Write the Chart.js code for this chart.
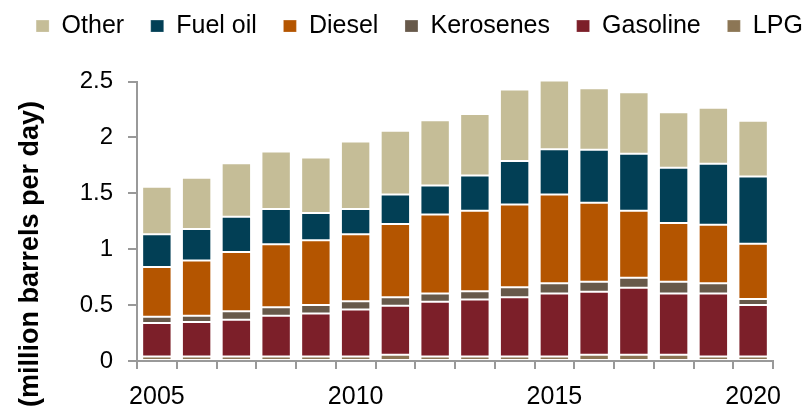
<!DOCTYPE html>
<html>
<head>
<meta charset="utf-8">
<script src="https://cdn.jsdelivr.net/npm/chart.js@4.4.1/dist/chart.umd.min.js"></script>
<style>
  html, body { margin: 0; padding: 0; background: #fff; }
  #wrap { width: 811px; height: 410px; }
</style>
</head>
<body>
<div id="wrap"><canvas id="fuelChart" width="811" height="410"></canvas></div>
<script>
// Năm
const years = ['2005', '2006', '2007', '2008', '2009', '2010', '2011', '2012',
               '2013', '2014', '2015', '2016', '2017', '2018', '2019', '2020'];

// Million barrels per day
const lpg       = [0.04, 0.04, 0.04, 0.04, 0.04, 0.04, 0.055, 0.04, 0.04, 0.04, 0.04, 0.055, 0.055, 0.055, 0.04, 0.04];
const gasoline  = [0.30, 0.31, 0.33, 0.365, 0.385, 0.42, 0.44, 0.49, 0.51, 0.53, 0.565, 0.565, 0.60, 0.55, 0.565, 0.46];
const kerosenes = [0.055, 0.055, 0.075, 0.075, 0.075, 0.075, 0.075, 0.075, 0.075, 0.09, 0.09, 0.09, 0.09, 0.105, 0.09, 0.055];
const diesel    = [0.445, 0.495, 0.53, 0.565, 0.58, 0.60, 0.655, 0.705, 0.72, 0.74, 0.795, 0.705, 0.60, 0.525, 0.525, 0.495];
const fuelOil   = [0.295, 0.28, 0.315, 0.315, 0.245, 0.225, 0.265, 0.26, 0.315, 0.39, 0.405, 0.475, 0.51, 0.495, 0.545, 0.60];
const other     = [0.425, 0.46, 0.48, 0.515, 0.495, 0.605, 0.57, 0.585, 0.55, 0.64, 0.625, 0.55, 0.55, 0.495, 0.50, 0.50];

const yTicks = [0, 0.5, 1, 1.5, 2, 2.5];

const FONT = "'Liberation Sans', Arial, sans-serif";
Chart.defaults.color = '#000';
Chart.defaults.font.family = FONT;

function ds(label, data, color) {
    return {
        label: label,
        data: data,
        backgroundColor: color,
        borderColor: 'rgba(255,255,255,0.25)',
        borderWidth: 1,
        borderSkipped: false,
        barPercentage: 0.74,
        categoryPercentage: 1.0,
        yAxisID: 'y'
    };
}

// đẩy biểu đồ xuống dưới chú thích
const legendGap = {
    id: 'legendGap',
    beforeInit(chart) {
        const fit = chart.legend.fit;
        chart.legend.fit = function () {
            fit.bind(chart.legend)();
            this.height += 33;
        };
    }
};

// tiêu đề trục Y
const yTitle = {
    id: 'yTitle',
    afterDraw(chart) {
        const ctx = chart.ctx;
        ctx.save();
        ctx.translate(31, 254);
        ctx.rotate(-Math.PI / 2);
        ctx.font = 'bold 27px ' + FONT;
        ctx.fillStyle = '#000';
        ctx.textAlign = 'center';
        ctx.textBaseline = 'middle';
        ctx.fillText('(million barrels per day)', 0, 0);
        ctx.restore();
    }
};

const ctx = document.getElementById('fuelChart').getContext('2d');
new Chart(ctx, {
    type: 'bar',
    data: {
        labels: years,
        datasets: [
            ds('LPG', lpg, '#8C7655'),
            ds('Gasoline', gasoline, '#7C1F29'),
            ds('Kerosenes', kerosenes, '#67594A'),
            ds('Diesel', diesel, '#B45500'),
            ds('Fuel oil', fuelOil, '#023F55'),
            ds('Other', other, '#C5BD97')
        ]
    },
    options: {
        responsive: false,
        animation: false,
        layout: { padding: { left: 0, right: -28, top: -13, bottom: -15 } },
        plugins: {
            legend: {
                display: true,
                position: 'top',
                reverse: true,
                labels: {
                    boxWidth: 13,
                    boxHeight: 12,
                    padding: 26.6,
                    font: { size: 25 },
                    color: '#000'
                }
            },
            tooltip: { enabled: false }
        },
        scales: {
            x: {
                stacked: true,
                grid: {
                    offset: true,
                    drawOnChartArea: false,
                    drawTicks: true,
                    tickLength: 8,
                    color: '#999',
                    lineWidth: 2
                },
                border: { display: true, color: '#999', width: 2 },
                ticks: {
                    autoSkip: false,
                    maxRotation: 0,
                    padding: 13,
                    font: { size: 25 },
                    callback: function (val, i) {
                        return i % 5 === 0 ? years[i] : '';
                    }
                }
            },
            y: {
                stacked: true,
                position: 'left',
                min: yTicks[0],
                max: yTicks[yTicks.length - 1],
                afterBuildTicks: function (scale) {
                    scale.ticks = yTicks.map(v => ({ value: v }));
                },
                afterFit: function (scale) { scale.width = 137; },
                grid: {
                    drawOnChartArea: false,
                    drawTicks: true,
                    tickLength: 9,
                    color: '#999',
                    lineWidth: 2
                },
                border: { display: true, color: '#999', width: 2 },
                ticks: {
                    padding: 15,
                    font: { size: 24 },
                    callback: function (val) { return String(val); }
                }
            },
            // khoảng trống bên phải
            yRight: {
                position: 'right',
                display: true,
                grid: { display: false },
                border: { display: false },
                ticks: { display: false },
                afterFit: function (scale) { scale.width = 66; }
            }
        }
    },
    plugins: [legendGap, yTitle]
});
</script>
</body>
</html>
